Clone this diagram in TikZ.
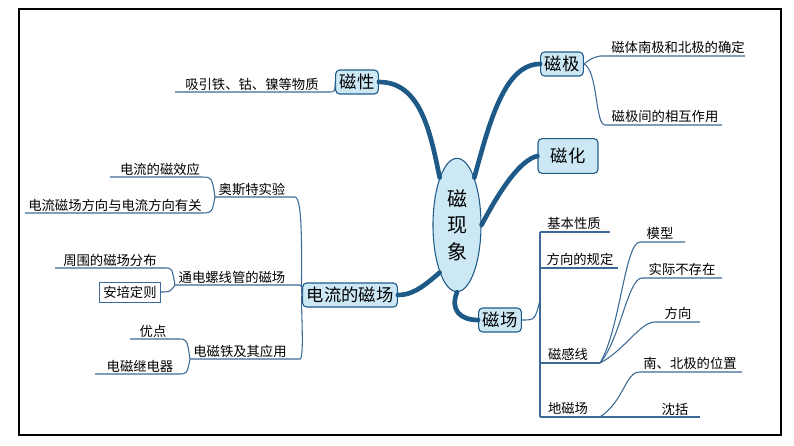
\documentclass[tikz,border=0pt]{standalone}
\usepackage{fontspec}
\usetikzlibrary{shapes.geometric}
\setmainfont{Noto Sans CJK SC}
\definecolor{brc}{RGB}{30,90,135}
\definecolor{ulc}{RGB}{60,105,150}
\definecolor{fillc}{RGB}{205,232,245}
\begin{document}
\begin{tikzpicture}[x=0.75pt,y=-0.75pt,
  box/.style={draw=brc,fill=fillc,rounded corners=3pt,line width=0.8pt,font=\fontsize{13}{14}\selectfont,inner sep=3pt},
  leaf/.style={font=\fontsize{10}{12}\selectfont,inner sep=1pt,anchor=south},
  ul/.style={draw=ulc,line width=0.8pt},
  br/.style={draw=brc,line width=3.5pt,line cap=round},
  tw/.style={draw=ulc,line width=0.8pt}]
\useasboundingbox (0,0) rectangle (794,446);
\draw[line width=1.5pt] (19,9) rectangle (781,435);
% center
\node[draw=brc,fill=fillc,ellipse,minimum width=36,minimum height=100,line width=0.8pt] (c) at (457,225) {};
\node[font=\fontsize{15}{20}\selectfont,align=center] (ct) at (457,225) {磁\\现\\象};
% main nodes
\node[box] (cx) at (357,82) {磁性};
\node[box] (cj) at (562,64) {磁极};
\node[box,minimum width=45,minimum height=26] (ch) at (568,156) {磁化};
\node[box] (dl) at (350,295) {电流的磁场};
\node[box] (cc) at (500,320) {磁场};
% branches
\draw[br] (c.north west) .. controls (430,130) and (420,82) .. (cx.east);
\draw[br] (c.north east) .. controls (490,120) and (505,64) .. (cj.west);
\draw[br] (c.east) .. controls (500,190) and (520,160) .. (ch.west);
\draw[br] (c.south west) .. controls (420,290) and (410,295) .. (dl.east);
\draw[br] (c.south) .. controls (450,310) and (460,320) .. (cc.west);
% left leaves
\node[leaf] (l1) at (252,92) {吸引铁、钴、镍等物质};
\coordinate (l1a) at (175,92); \coordinate (l1b) at (330,92);
\draw[ul] (l1a)--(l1b) .. controls (335,92) .. (cx.west);
\node[leaf] (ao) at (252,197) {奥斯特实验};
\coordinate (aoa) at (215,197); \coordinate (aob) at (295,197);
\draw[ul] (aoa)--(aob) .. controls (305,197) and (300,295) .. (dl.west);
\node[leaf] (a1) at (160,177) {电流的磁效应};
\node[leaf] (a2) at (115,213) {电流磁场方向与电流方向有关};
\coordinate (a1a) at (110,177); \coordinate (a1b) at (200,177);
\coordinate (a2a) at (25,213); \coordinate (a2b) at (200,213);
\draw[ul] (a1a)--(a1b) .. controls (212,177) .. (aoa);
\draw[ul] (a2a)--(a2b) .. controls (212,213) .. (aoa);
\node[leaf] (lx) at (232,285) {通电螺线管的磁场};
\coordinate (lxa) at (175,285); \coordinate (lxb) at (300,285);
\draw[ul] (lxa)--(lxb) .. controls (303,287) .. (dl.west);
\node[leaf] (s1) at (110,268) {周围的磁场分布};
\coordinate (s1a) at (55,268); \coordinate (s1b) at (165,268);
\draw[ul] (s1a)--(s1b) .. controls (172,268) .. (lxa);
\node[draw=ulc,fill=white,font=\fontsize{10}{12}\selectfont,inner sep=3pt] (s2) at (130,292) {安培定则};
\draw[tw] (s2.east) .. controls (170,292) .. (lxa);
\node[leaf] (dc) at (240,359) {电磁铁及其应用};
\coordinate (dca) at (190,359); \coordinate (dcb) at (300,359);
\draw[ul] (dca)--(dcb) .. controls (305,359) and (300,295) .. (dl.west);
\node[leaf] (d1) at (153,339) {优点};
\coordinate (d1a) at (130,339); \coordinate (d1b) at (178,339);
\draw[ul] (d1a)--(d1b) .. controls (187,339) .. (dca);
\node[leaf] (d2) at (140,374) {电磁继电器};
\coordinate (d2a) at (95,374); \coordinate (d2b) at (178,374);
\draw[ul] (d2a)--(d2b) .. controls (187,374) .. (dca);
% right top
\node[leaf] (j1) at (678,55) {磁体南极和北极的确定};
\coordinate (j1a) at (600,56); \coordinate (j1b) at (745,56);
\draw[ul] (cj.east) .. controls (592,58) .. (j1a)--(j1b);
\node[leaf] (j2) at (665,124) {磁极间的相互作用};
\coordinate (j2a) at (605,125); \coordinate (j2b) at (722,125);
\draw[ul] (cj.east) .. controls (598,70) and (595,125) .. (j2a)--(j2b);
% magnetic field
\coordinate (v0) at (540,232); \coordinate (v3) at (540,417);
\draw[ul] (cc.east) .. controls (535,320) .. (540,300);
\draw[ul] (v0)--(v3);
\node[leaf] (f1) at (574,231) {基本性质};
\draw[ul] (v0)--(610,232);
\node[leaf] (f2) at (580,267) {方向的规定};
\draw[ul] (540,268)--(618,268);
\node[leaf] (f3) at (568,362) {磁感线};
\coordinate (f3b) at (600,363);
\draw[ul] (540,363)--(f3b);
\node[leaf] (f4) at (568,416) {地磁场};
\coordinate (f4b) at (600,417);
\draw[ul] (v3)--(f4b);
\node[leaf] (g1) at (660,241) {模型};
\draw[ul] (f3b) .. controls (620,330) and (625,242) .. (640,242)--(685,242);
\node[leaf] (g2) at (682,277) {实际不存在};
\draw[ul] (f3b) .. controls (620,340) and (628,278) .. (642,278)--(722,278);
\node[leaf] (g3) at (678,321) {方向};
\draw[ul] (f3b) .. controls (625,350) and (640,322) .. (655,322)--(700,322);
\node[leaf] (h1) at (690,371) {南、北极的位置};
\draw[ul] (f4b) .. controls (625,400) and (625,372) .. (640,372)--(742,372);
\node[leaf] (h2) at (675,417) {沈括};
\draw[ul] (f4b) .. controls (625,417) and (640,417) .. (650,417)--(700,417);
\end{tikzpicture}
\end{document}
